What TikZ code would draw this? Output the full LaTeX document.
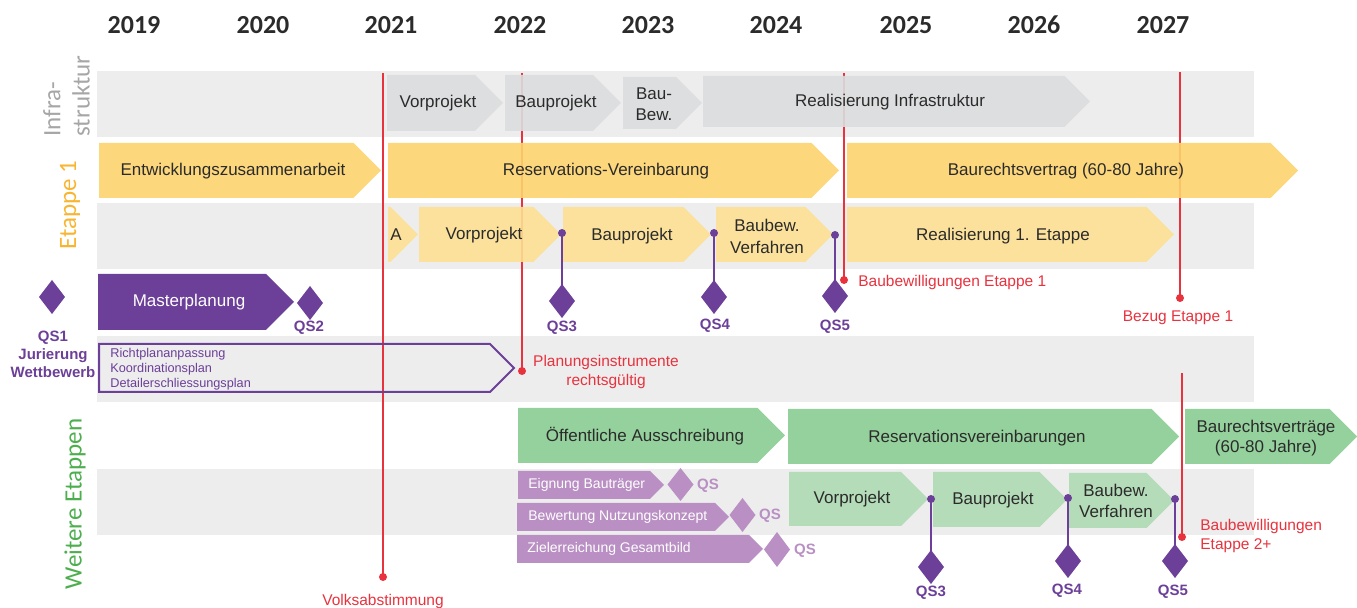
\documentclass[tikz,border=0pt]{standalone}
\usepackage{fontspec}
\setmainfont{Liberation Sans}
\newfontfamily\calfont{Carlito}
\definecolor{band}{HTML}{EDEDED}
\definecolor{infra}{HTML}{DCDDDF}
\definecolor{yel}{HTML}{FDD36E}
\definecolor{yell}{HTML}{FDE093}
\definecolor{purp}{HTML}{6C3F98}
\definecolor{lpurp}{HTML}{B98FC4}
\definecolor{grn}{HTML}{89CC91}
\definecolor{lgrn}{HTML}{AEDBB3}
\definecolor{rd}{HTML}{E8323E}
\definecolor{txt}{HTML}{2B2B2B}
\definecolor{glab}{HTML}{A6A6A6}
\definecolor{olab}{HTML}{F8B532}
\definecolor{grlab}{HTML}{4DAE4E}
\newcommand\chev[5]{\fill[#1] (#2,#3) -- ({#4-(#5-#3)/2},#3) -- (#4,{(#3+#5)/2}) -- ({#4-(#5-#3)/2},#5) -- (#2,#5) -- cycle;}
\newcommand\dia[4]{\fill[#1] (#2,{#3-#4}) -- ({#2+13},#3) -- (#2,{#3+#4}) -- ({#2-13},#3) -- cycle;}
\begin{document}
\begin{tikzpicture}[x=0.5pt,y=-0.5pt,
  shp/.style={fill opacity=0.9},
  lbl/.style={font=\fontsize{8.5}{10.5}\selectfont, text=txt, inner sep=0pt, align=center},
  year/.style={font=\calfont\bfseries\fontsize{13}{14}\selectfont, text=txt, inner sep=0pt},
  side/.style={font=\calfont\fontsize{12.5}{14}\selectfont, inner sep=0pt, rotate=90},
  qs/.style={font=\bfseries\fontsize{7.5}{9}\selectfont, text=purp, inner sep=0pt, align=center},
  lqs/.style={font=\bfseries\fontsize{7.5}{9}\selectfont, text=lpurp, inner sep=0pt},
  redl/.style={font=\fontsize{7.75}{9.5}\selectfont, text=rd, inner sep=0pt},
  smallw/.style={font=\fontsize{7}{8.5}\selectfont, text=white, inner sep=0pt, anchor=west},
  tinyp/.style={font=\fontsize{6.35}{7.5}\selectfont, text=purp, inner sep=0pt, anchor=west},
  redline/.style={draw=rd, line width=1pt},
  reddot/.style={fill=rd},
  qsline/.style={draw=purp, line width=0.8pt},
]
\useasboundingbox (0,0) rectangle (1357,608);
% years
\foreach \yr/\xx in {2019/134,2020/263,2021/391,2022/520,2023/648,2024/776,2025/906,2026/1034,2027/1163}
  \node[year] (y\yr) at (\xx,25) {\yr};
% side labels
\node[side, text=glab, anchor=west] (infra1) at (52,137) {Infra-};
\node[side, text=glab, anchor=west] (infra2) at (81,137) {struktur};
\node[side, text=olab] (et1) at (70,205) {Etappe 1};
\node[side, text=grlab] (wet) at (75,504) {Weitere Etappen};
% bands
\fill[band] (97,71) rectangle (1254,137);
\fill[band] (97,203) rectangle (1254,269);
\fill[band] (97,336) rectangle (1254,402);
\fill[band] (97,469) rectangle (1254,535);
% red lines
\coordinate (r1t) at (383,73); \coordinate (r1b) at (383,577);
\coordinate (r2t) at (522,73); \coordinate (r2b) at (522,371);
\coordinate (r3t) at (844,73); \coordinate (r3b) at (844,280);
\coordinate (r4t) at (1180,72); \coordinate (r4b) at (1180,298);
\coordinate (r5t) at (1182,373); \coordinate (r5b) at (1182,537);
\foreach \i in {1,...,5} \draw[redline] (r\i t) -- (r\i b);
% infra shapes
\chev{infra,shp}{387}{75}{503}{131}
\chev{infra,shp}{505}{75}{621}{131}
\chev{infra,shp}{623}{77}{702}{129}
\chev{infra,shp}{703}{76}{1090}{127}
\node[lbl] (iv) at (438,103) {Vorprojekt};
\node[lbl] (ib) at (556,103) {Bauprojekt};
\node[lbl] (ibb) at (654,104) {Bau-\\Bew.};
\node[lbl] (ir) at (890,102) {Realisierung Infrastruktur};
% etappe 1 top
\chev{yel,shp}{99}{143}{381}{198}
\chev{yel,shp}{388}{143}{839}{198}
\chev{yel,shp}{847}{143}{1298}{198}
\node[lbl] (ez) at (233,171) {Entwicklungszusammenarbeit};
\node[lbl] (rv) at (606,171) {Reservations-Vereinbarung};
\node[lbl] (bv) at (1066,171) {Baurechtsvertrag (60-80 Jahre)};
% etappe 1 lower
\chev{yell,shp}{388}{207}{418}{262}
\chev{yell,shp}{419}{207}{561}{262}
\chev{yell,shp}{563}{207}{711}{262}
\chev{yell,shp}{716}{207}{833}{262}
\chev{yell,shp}{847}{207}{1174}{262}
\node[lbl] (ea) at (396,235) {A};
\node[lbl] (ev) at (484,235) {Vorprojekt};
\node[lbl] (eb) at (632,236) {Bauprojekt};
\node[lbl, font=\fontsize{8.5}{11}\selectfont] (ebb) at (767,236) {Baubew.\\Verfahren};
\node[lbl] (er) at (1003,236) {Realisierung 1. Etappe};
% QS etappe 1
\coordinate (d3) at (562,233); \coordinate (d4) at (714,233); \coordinate (d5) at (835,235);
\dia{purp}{562}{301}{17}
\dia{purp}{714}{297}{17}
\dia{purp}{835}{296}{17}
\coordinate (q3) at (562,301); \coordinate (q4) at (714,297); \coordinate (q5) at (835,296);
\draw[qsline] (d3) -- (q3); \draw[qsline] (d4) -- (q4); \draw[qsline] (d5) -- (q5);
\foreach \c in {d3,d4,d5} \fill[purp] (\c) circle (4);
\node[qs] (lq3) at (562,328) {QS3};
\node[qs] (lq4) at (715,326) {QS4};
\node[qs] (lq5) at (835,327) {QS5};
% masterplanung
\chev{purp}{98}{274}{294}{330}
\node[lbl, text=white] (mp) at (189,302) {Masterplanung};
\dia{purp}{310}{303}{17}
\node[qs] (lq2) at (309,328) {QS2};
\dia{purp}{52}{297}{17}
\node[qs, font=\bfseries\fontsize{7.5}{9}\selectfont] (lq1) at (53,354) {QS1\\Jurierung\\Wettbewerb};
% planning outline
\draw[purp, line width=1pt] (99,344) -- (490,344) -- (514,368) -- (490,392) -- (99,392) -- cycle;
\node[tinyp] (p1) at (110,354) {Richtplananpassung};
\node[tinyp] (p2) at (110,369) {Koordinationsplan};
\node[tinyp] (p3) at (110,384) {Detailerschliessungsplan};
% green top
\chev{grn,shp}{518}{408}{785}{463}
\chev{grn,shp}{788}{409}{1179}{464}
\chev{grn,shp}{1185}{409}{1357}{464}
\node[lbl] (oa) at (645,436) {Öffentliche Ausschreibung};
\node[lbl] (rvb) at (977,438) {Reservationsvereinbarungen};
\node[lbl, font=\fontsize{8.5}{10}\selectfont] (brv) at (1266,438) {Baurechtsverträge\\(60-80 Jahre)};
% green lower
\chev{lgrn,shp}{789}{472}{928}{526}
\chev{lgrn,shp}{933}{472}{1067}{527}
\chev{lgrn,shp}{1069}{473}{1174}{528}
\node[lbl] (gv) at (852,499) {Vorprojekt};
\node[lbl] (gb) at (993,500) {Bauprojekt};
\node[lbl, font=\fontsize{8.5}{10.5}\selectfont] (gbb) at (1116,501) {Baubew.\\Verfahren};
% QS weitere
\coordinate (e3) at (931,499); \coordinate (e4) at (1068,498); \coordinate (e5) at (1175,499);
\dia{purp}{931}{567}{17}
\dia{purp}{1068}{561}{17}
\dia{purp}{1175}{561}{17}
\coordinate (f3) at (931,567); \coordinate (f4) at (1068,561); \coordinate (f5) at (1175,561);
\draw[qsline] (e3) -- (f3); \draw[qsline] (e4) -- (f4); \draw[qsline] (e5) -- (f5);
\foreach \c in {e3,e4,e5} \fill[purp] (\c) circle (4);
\node[qs] (wq3) at (931,593) {QS3};
\node[qs] (wq4) at (1067,591) {QS4};
\node[qs] (wq5) at (1173,592) {QS5};
% light purple
\chev{lpurp}{518}{471}{664}{499}
\chev{lpurp}{517}{503}{729}{531}
\chev{lpurp}{517}{535}{763}{563}
\node[smallw] (eg) at (528,485) {Eignung Bauträger};
\node[smallw] (bw) at (528,517) {Bewertung Nutzungskonzept};
\node[smallw] (zg) at (527,549) {Zielerreichung Gesamtbild};
\dia{lpurp}{680.5}{484.5}{16.5}
\dia{lpurp}{742.5}{515}{17}
\dia{lpurp}{777}{549.5}{17.5}
\node[lqs] (lqa) at (708,486) {QS};
\node[lqs] (lqb) at (770,516) {QS};
\node[lqs] (lqc) at (805,551) {QS};
% red dots and labels
\foreach \i in {1,...,5} \fill[reddot] (r\i b) circle (4);
\node[redl] (va) at (383,601) {Volksabstimmung};
\node[redl, align=center, font=\fontsize{7.75}{9.5}\selectfont] (pi) at (606,372) {Planungsinstrumente\\rechtsgültig};
\node[redl, anchor=west] (be1) at (858,282) {Baubewilligungen Etappe 1};
\node[redl] (bz) at (1178,318) {Bezug Etappe 1};
\node[redl, anchor=west, align=left, font=\fontsize{7.75}{9.5}\selectfont] (be2) at (1200,536) {Baubewilligungen\\Etappe 2+};
\end{tikzpicture}
\end{document}
